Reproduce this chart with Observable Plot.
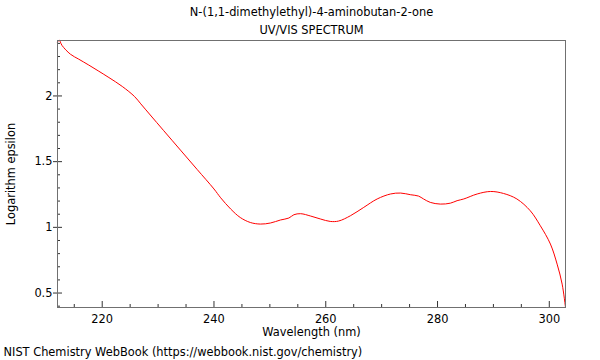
<!DOCTYPE html>
<html><head><meta charset="utf-8">
<script src="https://cdn.jsdelivr.net/npm/d3@7"></script>
<script src="https://cdn.jsdelivr.net/npm/@observablehq/plot@0.6"></script>
<style>body{margin:0;background:#fff} svg{display:block}</style>
</head><body><div id="chart"></div>
<script>
const title = "N-(1,1-dimethylethyl)-4-aminobutan-2-one";
const subtitle = "UV/VIS SPECTRUM";
const xLabel = "Wavelength (nm)";
const yLabel = "Logarithm epsilon";
const credit = "NIST Chemistry WebBook (https://webbook.nist.gov/chemistry)";

const wavelength = [212.0, 212.3, 212.8, 214.3, 215.8, 217.6, 219.4, 221.2, 223.6, 225.8,
  226.9, 228.6, 231.0, 234.0, 237.0, 240.0, 241.2, 243.0, 244.7, 246.5,
  248.3, 250.1, 251.9, 253.4, 254.3, 255.5, 257.3, 259.1, 260.8, 262.3,
  264.4, 266.8, 269.2, 271.6, 273.4, 275.2, 276.6, 277.5, 278.7, 280.5,
  282.3, 283.5, 284.7, 287.1, 289.5, 291.8, 294.2, 296.6, 298.4, 300.2,
  301.4, 302.3, 302.9];
const logEpsilon = [2.41, 2.425, 2.385, 2.318, 2.280, 2.235, 2.188, 2.140, 2.072, 1.995,
  1.940, 1.855, 1.736, 1.588, 1.440, 1.292, 1.225, 1.139, 1.075, 1.037,
  1.025, 1.033, 1.056, 1.071, 1.096, 1.104, 1.086, 1.063, 1.045, 1.048,
  1.088, 1.152, 1.216, 1.254, 1.261, 1.248, 1.238, 1.216, 1.190, 1.177,
  1.184, 1.203, 1.216, 1.254, 1.273, 1.258, 1.216, 1.126, 1.012, 0.873,
  0.720, 0.568, 0.39];

const xDomain = [212.0, 302.9];
const yDomain = [0.39, 2.422];
const xMajorTicks = [220, 240, 260, 280, 300];
const xMinorTicks = [215, 225, 230, 235, 245, 250, 255, 265, 270, 275, 285, 290, 295];
const yMajorTicks = [0.5, 1, 1.5, 2];
const yMinorTicks = [0.4, 0.6, 0.7, 0.8, 0.9, 1.1, 1.2, 1.3, 1.4, 1.6, 1.7, 1.8, 1.9, 2.1, 2.2, 2.3, 2.4];

const data = wavelength.map((w, i) => ({w, e: logEpsilon[i]}));

const W = 600, H = 360, mt = 40, mb = 53, ml = 57, mr = 35;
const fh = H - mt - mb, fw = W - ml - mr;
const tickColor = "#333";

const plot = Plot.plot({
  width: W, height: H,
  marginTop: mt, marginBottom: mb, marginLeft: ml, marginRight: mr,
  style: {fontFamily: "'DejaVu Sans', sans-serif", fontSize: "11.4px", color: "#000", background: "#fff"},
  x: {domain: xDomain},
  y: {domain: yDomain},
  marks: [
    Plot.axisX({ticks: xMajorTicks, tickSize: 0, tickPadding: 7, label: null, tickFormat: d => String(d)}),
    Plot.axisY({ticks: yMajorTicks, tickSize: 4, tickPadding: 1, label: null, stroke: tickColor, tickFormat: d => String(d)}),
    Plot.ruleX(xMajorTicks, {x: d => d, insetTop: fh - 6, stroke: tickColor}),
    Plot.ruleX(xMinorTicks, {x: d => d, insetTop: fh - 3, stroke: tickColor}),
    Plot.ruleY(yMajorTicks, {y: d => d, insetRight: fw - 5, stroke: tickColor}),
    Plot.ruleY(yMinorTicks, {y: d => d, insetRight: fw - 3, stroke: tickColor}),
    Plot.line(data, {x: "w", y: "e", stroke: "#ff0000", strokeWidth: 1, curve: "catmull-rom"}),
    Plot.frame({stroke: "#707070"}),
    Plot.text([title], {text: d => d, frameAnchor: "top", lineAnchor: "middle", dy: -28}),
    Plot.text([subtitle], {text: d => d, frameAnchor: "top", lineAnchor: "middle", dy: -10}),
    Plot.text([xLabel], {text: d => d, frameAnchor: "bottom", lineAnchor: "middle", dy: 25}),
    Plot.text([yLabel], {text: d => d, frameAnchor: "left", lineAnchor: "middle", textAnchor: "middle", dx: -46, rotate: -90}),
    Plot.text([credit], {text: d => d, frameAnchor: "bottom-left", lineAnchor: "middle", dx: -54, dy: 45, textAnchor: "start"})
  ]
});
document.getElementById("chart").append(plot);
</script>
</body></html>
